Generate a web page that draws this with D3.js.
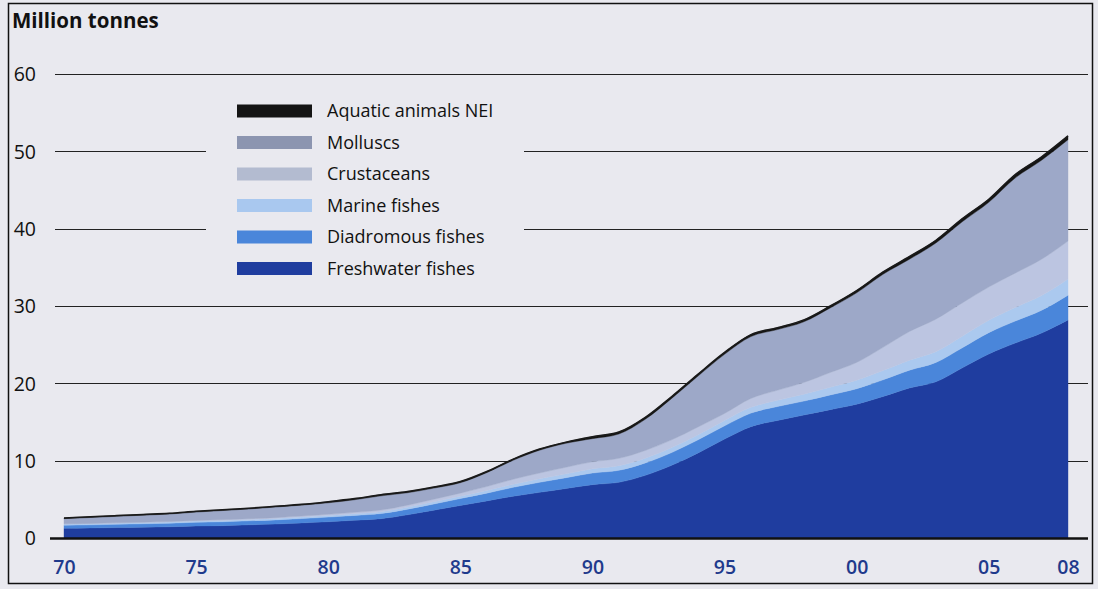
<!DOCTYPE html>
<html>
<head>
<meta charset="utf-8">
<script src="https://cdn.jsdelivr.net/npm/d3@7"></script>
<style>
  html, body { margin: 0; padding: 0; background: #e9e9ef; }
  svg { display: block; }
  text { font-family: "Open Sans", "Noto Sans", sans-serif; }
</style>
</head>
<body>
<svg id="chart" width="1098" height="589"></svg>
<script>
// ---- data (million tonnes) ----
const years = d3.range(1970, 2009);
const freshwater = [1.25,1.3,1.35,1.4,1.45,1.55,1.6,1.7,1.8,1.95,
  2.1,2.3,2.5,3.0,3.6,4.2,4.8,5.4,5.9,6.4,
  6.9,7.2,8.1,9.4,11.0,12.8,14.4,15.2,15.9,16.6,
  17.3,18.3,19.4,20.2,22.0,23.8,25.2,26.5,28.2];
const diadromous = [0.4,0.4,0.42,0.44,0.46,0.48,0.5,0.52,0.54,0.56,
  0.6,0.62,0.66,0.72,0.8,0.9,1.0,1.15,1.3,1.4,
  1.5,1.55,1.6,1.65,1.7,1.7,1.75,1.8,1.8,1.9,
  2.0,2.15,2.3,2.5,2.6,2.75,2.85,2.95,3.2];
const marine = [0.15,0.15,0.15,0.16,0.16,0.17,0.17,0.18,0.19,0.2,
  0.21,0.22,0.24,0.26,0.28,0.3,0.35,0.4,0.45,0.5,
  0.55,0.6,0.62,0.64,0.66,0.7,0.75,0.8,0.9,1.0,
  1.1,1.2,1.3,1.4,1.5,1.6,1.75,1.9,2.1];
const crustaceans = [0.03,0.03,0.04,0.05,0.06,0.07,0.08,0.09,0.1,0.12,
  0.15,0.18,0.22,0.27,0.33,0.4,0.5,0.65,0.75,0.85,
  0.9,0.95,1.0,1.0,1.0,0.9,1.15,1.3,1.5,1.9,
  2.3,3.0,3.7,4.2,4.3,4.3,4.45,4.7,4.9];
const molluscs = [0.67,0.77,0.84,0.9,0.97,1.08,1.2,1.26,1.37,1.42,
  1.49,1.63,1.83,1.6,1.44,1.35,1.8,2.45,2.95,3.1,
  3.0,3.15,4.03,5.36,6.59,7.65,8.0,7.85,7.85,8.35,
  9.0,9.45,9.35,9.85,10.5,10.95,12.3,12.8,13.1];
const aquaticNEI = [0.1,0.1,0.1,0.1,0.1,0.1,0.1,0.1,0.1,0.1,
  0.15,0.15,0.15,0.15,0.15,0.15,0.15,0.15,0.15,0.15,
  0.25,0.25,0.25,0.25,0.25,0.25,0.25,0.25,0.25,0.25,
  0.3,0.3,0.35,0.35,0.4,0.4,0.45,0.45,0.5];

const seriesKeys = ["Freshwater fishes","Diadromous fishes","Marine fishes","Crustaceans","Molluscs","Aquatic animals NEI"];
const seriesValues = [freshwater, diadromous, marine, crustaceans, molluscs, aquaticNEI];
const legendOrder = ["Aquatic animals NEI","Molluscs","Crustaceans","Marine fishes","Diadromous fishes","Freshwater fishes"];
const yTicks = [0,10,20,30,40,50,60];
const xTickYears = [1970,1975,1980,1985,1990,1995,2000,2005,2008];
const xTickLabels = ["70","75","80","85","90","95","00","05","08"];
const yTitle = "Million tonnes";

const colors = {
  "Freshwater fishes": "#1f3d9f",
  "Diadromous fishes": "#4a86da",
  "Marine fishes": "#abc9ef",
  "Crustaceans": "#bcc5e1",
  "Molluscs": "#9da8c8",
  "Aquatic animals NEI": "#141414"
};
const legendColors = {
  "Freshwater fishes": "#1f3d9f",
  "Diadromous fishes": "#4a86da",
  "Marine fishes": "#a9c8ef",
  "Crustaceans": "#b3bbd0",
  "Molluscs": "#8c95b0",
  "Aquatic animals NEI": "#141414"
};

// ---- build table ----
const table = years.map((yr, i) => {
  const row = { year: yr };
  seriesKeys.forEach((k, j) => row[k] = seriesValues[j][i]);
  return row;
});

const svg = d3.select("#chart");

const x = d3.scaleLinear().domain([1970, 2008]).range([64, 1068]);
const y = d3.scaleLinear().domain([0, 60]).range([538, 74]);

// frame
svg.append("rect").attr("x", 8.5).attr("y", 3.5).attr("width", 1084).attr("height", 580)
  .attr("fill", "#e9e9ef").attr("stroke", "#111").attr("stroke-width", 1.5);

// y title
svg.append("text").attr("x", 12).attr("y", 28).attr("font-size", 20.5).attr("font-weight", 700)
  .attr("fill", "#111").text(yTitle);

// gridlines
const grid = svg.append("g");
yTicks.filter(t => t > 0).forEach(t => {
  grid.append("line").attr("x1", 55).attr("x2", 1088)
    .attr("y1", Math.round(y(t)) + 0.5).attr("y2", Math.round(y(t)) + 0.5)
    .attr("stroke", "#222").attr("stroke-width", 1.2);
});

// y tick labels via axis
const yAxis = d3.axisLeft(y).tickValues(yTicks).tickSize(0).tickPadding(0).tickFormat(d3.format("d"));
const yg = svg.append("g").attr("transform", "translate(36,0)").call(yAxis);
yg.select(".domain").remove();
yg.selectAll("text").attr("font-size", 19.5).attr("fill", "#111")
  .attr("font-family", "'Open Sans', sans-serif").attr("dy", "0.35em");

// stacked areas
const stack = d3.stack().keys(seriesKeys);
const layers = stack(table);
const area = d3.area()
  .x(d => x(d.data.year))
  .y0(d => y(d[0]))
  .y1(d => y(d[1]))
  .curve(d3.curveMonotoneX);

svg.append("g").selectAll("path").data(layers).join("path")
  .attr("d", area)
  .attr("fill", d => colors[d.key])
  .attr("stroke", d => colors[d.key])
  .attr("stroke-width", 0.4);

// top outline
const topLayer = layers[layers.length - 1];
svg.append("path").datum(topLayer)
  .attr("d", d3.line().x(d => x(d.data.year)).y(d => y(d[1])).curve(d3.curveMonotoneX))
  .attr("fill", "none").attr("stroke", "#1a1a1a").attr("stroke-width", 1.5);

// baseline
svg.append("line").attr("x1", 50).attr("x2", 1088).attr("y1", y(0) + 0.5).attr("y2", y(0) + 0.5)
  .attr("stroke", "#111").attr("stroke-width", 2.5);

// x axis labels
const xAxis = d3.axisBottom(x).tickValues(xTickYears).tickSize(0).tickPadding(0)
  .tickFormat((d, i) => xTickLabels[i]);
const xg = svg.append("g").attr("transform", "translate(0,560)").call(xAxis);
xg.select(".domain").remove();
xg.selectAll("text").attr("font-size", 19.5).attr("font-weight", 600).attr("fill", "#1f3a8c")
  .attr("font-family", "'Open Sans', sans-serif").attr("dy", "0.7em");

// legend (with background hiding gridlines)
const lg = svg.append("g");
lg.append("rect").attr("x", 206).attr("y", 96).attr("width", 318).attr("height", 188).attr("fill", "#e9e9ef");
legendOrder.forEach((k, i) => {
  const cy = 111 + i * 31.5;
  lg.append("rect").attr("x", 237).attr("y", cy - 6.5).attr("width", 75).attr("height", 13)
    .attr("fill", legendColors[k]);
  lg.append("text").attr("x", 327).attr("y", cy).attr("dy", "0.35em")
    .attr("font-size", 18).attr("fill", "#111").text(k);
});
</script>
</body>
</html>
